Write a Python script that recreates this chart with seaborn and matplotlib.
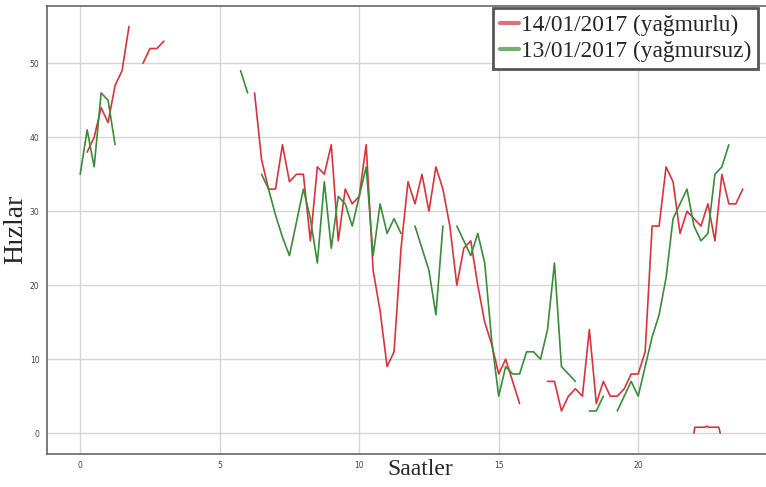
import numpy as np
import pandas as pd
import matplotlib
matplotlib.use('Agg')
import matplotlib.pyplot as plt
import seaborn as sns

nan = np.nan

# 15 dakikalik olcumler (96 nokta / gun)
hours = np.arange(96) * 0.25

rainy = [nan, 38, 40, 44, 42, 47, 49, 55, nan, 50, 52, 52, 53,
         nan, nan, nan, nan, nan, nan, nan, nan, nan, nan, nan, nan,
         46, 37, 33, 33, 39, 34, 35, 35, 26, 36, 35, 39, 26, 33, 31, 32,
         39, 22, 16.5, 9, 11, 25, 34, 31, 35, 30, 36, 33, 28, 20, 25, 26,
         20, 15, 12, 8, 10, 7, 4, nan, nan, nan, 7, 7, 3, 5, 6, 5, 14, 4,
         7, 5, 5, 6, 8, 8, 11, 28, 28, 36, 34, 27, 30, 29, 28, 31, 26, 35,
         31, 31, 33]

dry = [35, 41, 36, 46, 45, 39,
       nan, nan, nan, nan, nan, nan, nan, nan, nan, nan, nan, nan, nan,
       nan, nan, nan, nan,
       49, 46, nan, 35, 33, 29.5, 26.5, 24, 28.5, 33, 29, 23, 34, 25, 32,
       31, 28, 32, 36, 24, 31, 27, 29, 27, nan, 28, 25, 22, 16, 28, nan,
       28, 26, 24, 27, 23, 12.5, 5, 9, 8, 8, 11, 11, 10, 14, 23, 9, 8, 7,
       nan, 3, 3, 5, nan, 3, 5, 7, 5, 9, 13, 16, 21, 29, 31, 33, 28, 26,
       27, 35, 36, 39, nan, nan]

# kirmizi serinin alttaki kucuk parcasi
rainy_extra_hours = [22.0, 22.03, 22.4, 22.46, 22.52, 22.89, 22.94]
rainy_extra_values = [0.0, 0.8, 0.8, 0.95, 0.8, 0.8, 0.0]

label_rainy = '14/01/2017 (yağmurlu)'
label_dry = '13/01/2017 (yağmursuz)'


def segments(x, y, label, start_id):
    # NaN bosluklarinda cizgiyi kes
    df = pd.DataFrame({'Saat': x, 'Hiz': y})
    df['seg'] = df['Hiz'].isna().cumsum() + start_id
    df = df.dropna()
    df['Gun'] = label
    return df


parts = [segments(hours, rainy, label_rainy, 0),
         segments(rainy_extra_hours, rainy_extra_values, label_rainy, 1000),
         segments(hours, dry, label_dry, 2000)]
data = pd.concat(parts, ignore_index=True)

sns.set_style('whitegrid')

fig = plt.figure(figsize=(7.66, 4.87), dpi=100)
ax = fig.add_axes([47 / 766, (487 - 453.5) / 487, (776 - 47) / 766, 447.5 / 487])

sns.lineplot(data=data, x='Saat', y='Hiz', hue='Gun', units='seg',
             estimator=None, palette={label_rainy: '#d8333d', label_dry: '#3a8c3a'},
             linewidth=1.2, ax=ax, legend=True)

ax.set_xlim(-1.19, 24.94)
ax.set_ylim(-2.75, 57.75)
ax.set_xticks([0, 5, 10, 15, 20])
ax.set_yticks([0, 10, 20, 30, 40, 50])
ax.grid(True, color='#d6d6d6', linewidth=1.0)
ax.tick_params(labelsize=5.5, colors='#444444', length=2, width=0.6)

for side in ['left', 'bottom', 'top']:
    ax.spines[side].set_color('#666666')
    ax.spines[side].set_linewidth(1.2)

serif = ['Liberation Serif', 'DejaVu Serif']
ax.set_xlabel('Saatler', fontsize=17, family=serif)
ax.set_ylabel('Hızlar', fontsize=20, family=serif)
ax.xaxis.set_label_coords((420 - 47) / 729, -0.012)
ax.yaxis.set_label_coords(-0.026, 0.5)

handles, labels = ax.get_legend_handles_labels()
leg = ax.legend(handles, labels, loc='upper right',
                bbox_to_anchor=(758 / 766, (487 - 8) / 487),
                bbox_transform=fig.transFigure, borderaxespad=0,
                prop={'family': serif, 'size': 16.8}, fancybox=False,
                framealpha=1, edgecolor='#555555', handlelength=0.85,
                handletextpad=0.05, labelspacing=0.2, borderpad=0.3)
leg.get_frame().set_linewidth(2)
for line in leg.get_lines():
    line.set_linewidth(3)
    line.set_alpha(0.7)

fig.savefig('out.png', dpi=100)
